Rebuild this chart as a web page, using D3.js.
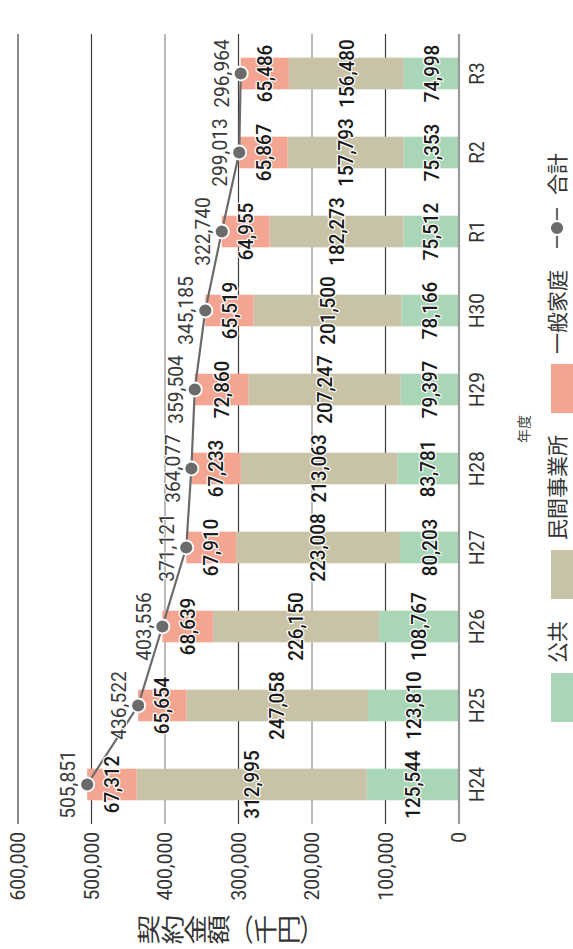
<!DOCTYPE html>
<html>
<head>
<meta charset="utf-8">
<script src="https://cdn.jsdelivr.net/npm/d3@7"></script>
<style>
  html, body { margin: 0; padding: 0; background: #fff; }
  svg { display: block; }
</style>
</head>
<body>
<svg id="chart" width="573" height="949"></svg>
<script>
// 年度別の契約金額（千円）
const years = ["H24", "H25", "H26", "H27", "H28", "H29", "H30", "R1", "R2", "R3"];
const publicValues = [125544, 123810, 108767, 80203, 83781, 79397, 78166, 75512, 75353, 74998];
const privateValues = [312995, 247058, 226150, 223008, 213063, 207247, 201500, 182273, 157793, 156480];
const householdValues = [67312, 65654, 68639, 67910, 67233, 72860, 65519, 64955, 65867, 65486];
const totalValues = [505851, 436522, 403556, 371121, 364077, 359504, 345185, 322740, 299013, 296964];
const valueTicks = [0, 100000, 200000, 300000, 400000, 500000, 600000];
const seriesNames = ["公共", "民間事業所", "一般家庭"];
const totalName = "合計";
const axisTitle = "契約金額（千円）";
const categoryTitle = "年度";

const seriesColors = ["#a9d6b6", "#c8c3a6", "#f3a592"];
const lineColor = "#6b6b6b";
const NUM_FONT = "Roboto, 'Noto Sans CJK JP', sans-serif";
const CJK_FONT = "'Noto Sans CJK JP', sans-serif";

// The chart is laid out in a 949 x 573 frame and turned a quarter turn
// so that the years run up the page and amounts run right to left.
const W = 949, H = 573;
const svg = d3.select("#chart");
const root = svg.append("g").attr("transform", `translate(0,${W}) rotate(-90)`);

const x = d3.scaleBand().domain(years).range([125, 915]).paddingInner(0.6).paddingOuter(0.3);
const y = d3.scaleLinear().domain([0, 600000]).range([459, 18]);
const fmt = d3.format(",");

function label(parent, px, py, s, o) {
  const g = parent.append("g").attr("transform", `translate(${px},${py})`);
  const t = g.append("text")
    .attr("transform", `scale(${o.sx || 1},${o.sy || 1})`)
    .attr("text-anchor", o.anchor || "middle")
    .attr("dy", o.dy || "0.36em")
    .style("font-family", o.family || NUM_FONT)
    .style("font-size", (o.size || 20) + "px")
    .style("font-weight", o.weight || 400)
    .attr("fill", o.fill || "#333")
    .text(s);
  if (o.halo) {
    t.attr("stroke", "#fff").attr("stroke-width", o.halo)
     .attr("stroke-linejoin", "round").attr("paint-order", "stroke");
  }
  return t;
}

// gridlines
const darkLines = new Set([100000, 300000, 500000, 600000]);
root.append("g").selectAll("line")
  .data(valueTicks.filter(v => v > 0))
  .join("line")
  .attr("x1", x.range()[0]).attr("x2", x.range()[1])
  .attr("y1", d => y(d)).attr("y2", d => y(d))
  .attr("stroke", d => darkLines.has(d) ? "#3c3c3c" : "#8c8c8c")
  .attr("stroke-width", 1.2);

// value tick labels
valueTicks.forEach(v => {
  label(root, 117, y(v), fmt(v), { anchor: "end", size: 20, sx: 0.96, fill: "#333" });
});

// stacked bars
const rows = years.map((yr, i) => ({ year: yr, 公共: publicValues[i], 民間事業所: privateValues[i], 一般家庭: householdValues[i] }));
const stacked = d3.stack().keys(seriesNames)(rows);

const barLayer = root.append("g");
stacked.forEach((layer, si) => {
  barLayer.append("g").attr("fill", seriesColors[si])
    .selectAll("rect")
    .data(layer)
    .join("rect")
    .attr("x", d => x(d.data.year))
    .attr("width", x.bandwidth())
    .attr("y", d => y(d[1]))
    .attr("height", d => y(d[0]) - y(d[1]));
});

// baseline
root.append("line")
  .attr("x1", x.range()[0]).attr("x2", x.range()[1])
  .attr("y1", y(0)).attr("y2", y(0))
  .attr("stroke", "#9a9a9a").attr("stroke-width", 2.2);

// category labels
years.forEach(yr => {
  label(root, x(yr) + x.bandwidth() / 2, 477, yr, { size: 20, sx: 0.95, fill: "#333" });
});

// total line and markers
const cx = d => x(d) + x.bandwidth() / 2;
root.append("path")
  .datum(years.map((yr, i) => [cx(yr), y(totalValues[i])]))
  .attr("d", d3.line())
  .attr("fill", "none")
  .attr("stroke", lineColor)
  .attr("stroke-width", 2.2);

root.append("g").selectAll("circle")
  .data(years.map((yr, i) => ({ yr, v: totalValues[i] })))
  .join("circle")
  .attr("cx", d => cx(d.yr))
  .attr("cy", d => y(d.v))
  .attr("r", 7)
  .attr("fill", lineColor)
  .attr("stroke", "#fff")
  .attr("stroke-width", 1.8);

// segment value labels
stacked.forEach(layer => {
  layer.forEach(d => {
    const v = d[1] - d[0];
    label(root, cx(d.data.year), (y(d[0]) + y(d[1])) / 2, fmt(v),
      { size: 20, sx: 0.94, weight: 500, fill: "#1a1a1a", halo: 2.6 });
  });
});

// total labels
years.forEach((yr, i) => {
  label(root, cx(yr), y(totalValues[i]) - 19, fmt(totalValues[i]),
    { size: 20, sx: 0.96, fill: "#3a3a3a", halo: 2 });
});

// category axis title
label(root, (x.range()[0] + x.range()[1]) / 2, 524, categoryTitle,
  { family: CJK_FONT, size: 14, fill: "#444" });

// value axis title, set in a vertical column
const verticalForms = { "（": "︵", "）": "︶" };
Array.from(axisTitle).forEach((ch, i) => {
  label(root, 19.5, 149 + i * 23.3, verticalForms[ch] || ch,
    { family: CJK_FONT, size: 23, sx: 1.3, fill: "#333" });
});

// legend
const legend = root.append("g");
let lx = 227;
const ly = 557;
seriesNames.forEach((name, i) => {
  legend.append("rect").attr("x", lx).attr("y", 551).attr("width", 49).attr("height", 22)
    .attr("fill", seriesColors[i]);
  lx += 49 + 10;
  const t = label(legend, lx, ly, name, { family: CJK_FONT, size: 21, anchor: "start", fill: "#333" });
  lx += t.node().getComputedTextLength() + 22;
});
legend.append("line").attr("x1", lx).attr("x2", lx + 40).attr("y1", ly).attr("y2", ly)
  .attr("stroke", lineColor).attr("stroke-width", 2.2);
legend.append("circle").attr("cx", lx + 20).attr("cy", ly).attr("r", 7)
  .attr("fill", lineColor).attr("stroke", "#fff").attr("stroke-width", 1.8);
lx += 40 + 13;
label(legend, lx, ly, totalName, { family: CJK_FONT, size: 21, anchor: "start", fill: "#333" });
</script>
</body>
</html>
